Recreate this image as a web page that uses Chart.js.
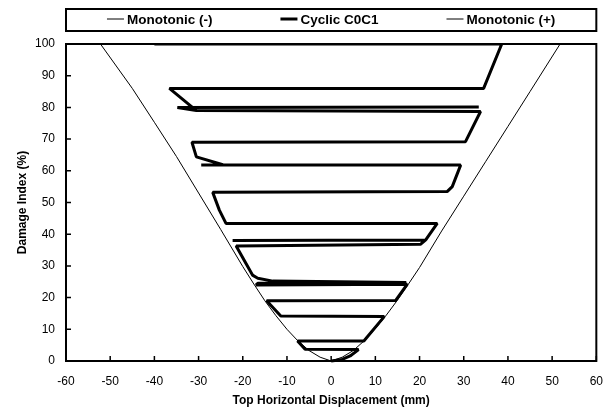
<!DOCTYPE html>
<html lang="en">
<head>
<meta charset="UTF-8">
<title>Damage Index vs Top Horizontal Displacement</title>
<script src="https://cdn.jsdelivr.net/npm/chart.js"></script>
<style>
    html, body {
        margin: 0;
        padding: 0;
        background: #ffffff;
    }
    .chart-box {
        position: relative;
        width: 616px;
        height: 414px;
    }
</style>
</head>
<body>
<div class="chart-box"><canvas id="chart"></canvas></div>
<script>
const seriesLabels = ['Monotonic (-)', 'Cyclic C0C1', 'Monotonic (+)'];

const xTickValues = [-60, -50, -40, -30, -20, -10, 0, 10, 20, 30, 40, 50, 60];
const yTickValues = [0, 10, 20, 30, 40, 50, 60, 70, 80, 90, 100];

// monotonic envelopes
const monoNegX = [0, -2.5, -5, -7.5, -10, -12.5, -15, -17.5, -20, -25, -30, -35, -40, -45, -52.2];
const monoNegY = [0, 1.2, 3.3, 6.3, 10, 14.3, 19, 24.3, 29.8, 41.5, 53, 64.5, 75.3, 86, 100];
const monoPosX = [0, 2.5, 5, 7.5, 10, 12.5, 15, 17.5, 20, 25, 30, 35, 40, 45, 51.8];
const monoPosY = [0, 1.2, 3.3, 6.4, 10.2, 14.5, 19.2, 24.3, 29.5, 41, 52, 63, 74, 85, 100];

// cyclic test path (in test order)
const cyclicX = [0, 2.5, 4.3, 6.2, -5.9, -7.6, 7.4, 12.0, -11.4, -14.6, 14.6, 17.2, -17.0, -16.6, 17.0,
    -13.2, -16.6, -17.8, -21.5, 20.2, 21.4, -22.3, 21.4, 24.0, -23.8, -25.3, -26.8, 26.3, 27.4,
    29.3, -29.4, -24.5, -30.5, -31.5, 30.4, 33.8, -30.5, -34.8, 33.4, -34.8, -30.5, -36.6, 34.5, 38.6, -40.0];
const cyclicY = [0, 0.5, 1.6, 3.6, 3.7, 6.3, 6.3, 14.0, 14.2, 19.0, 19.1, 24.2, 24.0, 24.5, 24.8,
    25.2, 26.1, 27.1, 36.3, 36.8, 38.2, 38.0, 38.2, 43.4, 43.4, 47.6, 53.2, 53.5, 55.0,
    61.8, 61.8, 61.9, 64.4, 69.0, 69.2, 78.7, 79.0, 80.0, 80.1, 80.0, 79.0, 86.0, 86.0, 100, 100];

function toPoints(xs, ys) {
    return xs.map((x, i) => ({ x: x, y: ys[i] }));
}

const fontFamily = "'Liberation Sans', Arial, sans-serif";
Chart.defaults.font.family = fontFamily;
Chart.defaults.color = '#000000';

const frameAndLegend = {
    id: 'frameAndLegend',
    afterDatasetsDraw(chart) {
        const { ctx, chartArea: a, scales } = chart;
        ctx.save();
        ctx.strokeStyle = '#000000';

        // tick marks pointing inside
        ctx.lineWidth = 1.5;
        ctx.beginPath();
        scales.x.ticks.forEach(t => {
            const px = scales.x.getPixelForValue(t.value);
            ctx.moveTo(px, a.bottom);
            ctx.lineTo(px, a.bottom - 5);
        });
        scales.y.ticks.forEach(t => {
            const py = scales.y.getPixelForValue(t.value);
            ctx.moveTo(a.left, py);
            ctx.lineTo(a.left + 5, py);
        });
        ctx.stroke();

        ctx.lineWidth = 2;
        ctx.strokeRect(a.left, a.top, a.right - a.left, a.bottom - a.top);

        // legend box
        const boxTop = 9, boxBottom = 31;
        ctx.strokeRect(a.left, boxTop, a.right - a.left, boxBottom - boxTop);

        ctx.font = 'bold 13.5px ' + fontFamily;
        ctx.textBaseline = 'middle';
        ctx.textAlign = 'left';
        const markLen = 17, markGap = 3, itemGap = 68;
        const items = chart.data.datasets.map(ds => ({
            text: ds.label,
            width: markLen + markGap + ctx.measureText(ds.label).width,
            lw: ds.borderWidth,
            color: ds.borderColor
        }));
        const total = items.reduce((s, it) => s + it.width, 0) + itemGap * (items.length - 1);
        let x = (a.left + a.right) / 2 - total / 2;
        const cy = (boxTop + boxBottom) / 2;
        items.forEach(it => {
            ctx.beginPath();
            ctx.lineWidth = it.lw;
            ctx.strokeStyle = it.color;
            ctx.moveTo(x, cy - 1);
            ctx.lineTo(x + markLen, cy - 1);
            ctx.stroke();
            ctx.fillStyle = '#000000';
            ctx.fillText(it.text, x + markLen + markGap, cy);
            x += it.width + itemGap;
        });
        ctx.restore();
    }
};

new Chart(document.getElementById('chart'), {
    type: 'scatter',
    data: {
        datasets: [
            {
                label: seriesLabels[0],
                data: toPoints(monoNegX, monoNegY),
                showLine: true,
                borderColor: '#000000',
                borderWidth: 1,
                pointRadius: 0,
                tension: 0
            },
            {
                label: seriesLabels[1],
                data: toPoints(cyclicX, cyclicY),
                showLine: true,
                borderColor: '#000000',
                borderWidth: 3,
                borderJoinStyle: 'bevel',
                pointRadius: 0,
                tension: 0,
                clip: { left: 5, top: 0, right: 5, bottom: 5 }
            },
            {
                label: seriesLabels[2],
                data: toPoints(monoPosX, monoPosY),
                showLine: true,
                borderColor: '#000000',
                borderWidth: 1,
                pointRadius: 0,
                tension: 0
            }
        ]
    },
    options: {
        responsive: true,
        maintainAspectRatio: false,
        animation: false,
        events: [],
        layout: {
            padding: { top: 44, right: 19, left: 0, bottom: 0 }
        },
        plugins: {
            legend: { display: false },
            tooltip: { enabled: false }
        },
        scales: {
            x: {
                type: 'linear',
                min: -60,
                max: 60,
                afterBuildTicks: s => { s.ticks = xTickValues.map(v => ({ value: v })); },
                afterFit: s => { s.height = 53; },
                grid: { display: false, drawTicks: false },
                border: { display: false },
                ticks: {
                    font: { size: 12 },
                    color: '#000000',
                    padding: 13,
                    maxRotation: 0,
                    autoSkip: false
                },
                title: {
                    display: true,
                    text: 'Top Horizontal Displacement (mm)',
                    font: { size: 12, weight: 'bold' },
                    color: '#000000',
                    padding: { top: 0, bottom: 6 }
                }
            },
            y: {
                type: 'linear',
                min: 0,
                max: 100,
                afterBuildTicks: s => { s.ticks = yTickValues.map(v => ({ value: v })); },
                afterFit: s => { s.width = 66; },
                grid: { display: false, drawTicks: false },
                border: { display: false },
                ticks: {
                    font: { size: 12 },
                    color: '#000000',
                    padding: 11
                },
                title: {
                    display: true,
                    text: 'Damage Index (%)',
                    font: { size: 12, weight: 'bold' },
                    color: '#000000',
                    padding: { top: 15, bottom: 0 }
                }
            }
        }
    },
    plugins: [frameAndLegend]
});
</script>
</body>
</html>
